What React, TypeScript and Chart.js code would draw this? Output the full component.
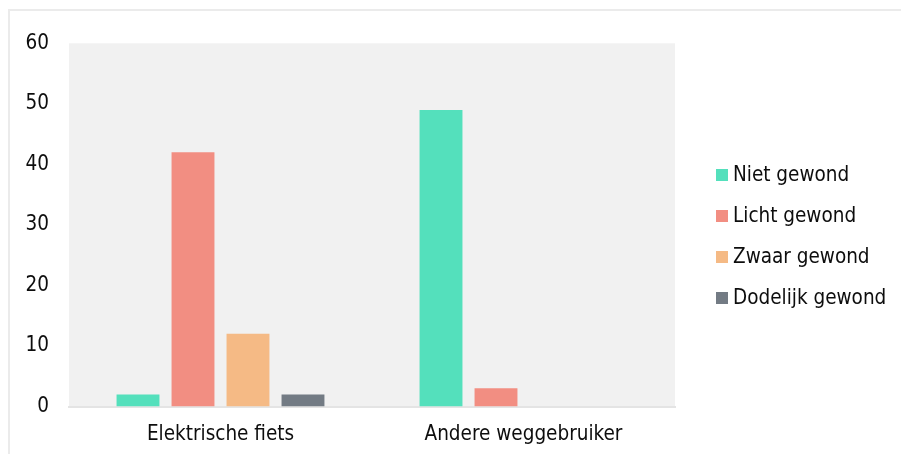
import React, { useEffect, useRef } from "react";
import { Chart, registerables } from "chart.js";

Chart.register(...registerables);

const categories = ["Elektrische fiets", "Andere weggebruiker"];
const seriesLabels = ["Niet gewond", "Licht gewond", "Zwaar gewond", "Dodelijk gewond"];
const nietGewond = [2, 49];
const lichtGewond = [42, 3];
const zwaarGewond = [12, 0];
const dodelijkGewond = [2, 0];
const seriesColors = ["#54e0bc", "#f28e82", "#f5ba85", "#737b84"];
const yTicks = [0, 10, 20, 30, 40, 50, 60];

const FONT = "'DejaVu Sans Condensed', 'DejaVu Sans', sans-serif";
const FONT_SIZE = 20.5;
const TEXT = "#0d0d0d";

// Light grey backdrop behind the plot area
const plotBackground = {
  id: "plotBackground",
  beforeDraw(chart: any) {
    const { ctx, chartArea } = chart;
    ctx.save();
    ctx.fillStyle = "#f1f1f1";
    ctx.fillRect(chartArea.left, chartArea.top, chartArea.right - chartArea.left, chartArea.bottom - chartArea.top);
    ctx.restore();
  },
};

// Legend column to the right of the plot
const sideLegend = {
  id: "sideLegend",
  afterDraw(chart: any) {
    const { ctx } = chart;
    const x = chart.chartArea.right + 41;
    const y0 = 164;
    const step = 41;
    ctx.save();
    ctx.font = `${FONT_SIZE}px ${FONT}`;
    ctx.textBaseline = "middle";
    ctx.textAlign = "left";
    chart.data.datasets.forEach((ds: any, i: number) => {
      const cy = y0 + i * step;
      ctx.fillStyle = ds.backgroundColor;
      ctx.fillRect(x, cy - 6, 12, 12);
      ctx.fillStyle = TEXT;
      ctx.fillText(ds.label, x + 17, cy + 1);
    });
    ctx.restore();
  },
};

export default function App() {
  const canvasRef = useRef<HTMLCanvasElement>(null);

  useEffect(() => {
    document.body.style.overflow = "hidden";
    const values = [nietGewond, lichtGewond, zwaarGewond, dodelijkGewond];
    const chart = new Chart(canvasRef.current!, {
      type: "bar",
      data: {
        labels: categories,
        datasets: seriesLabels.map((label, i) => ({
          label,
          data: values[i],
          backgroundColor: seriesColors[i],
          categoryPercentage: 0.726,
          barPercentage: 0.78,
        })),
      },
      options: {
        animation: false,
        responsive: false,
        layout: { padding: { top: 29.5, right: 226, bottom: 0, left: 0 } },
        plugins: {
          legend: { display: false },
          tooltip: { enabled: false },
        },
        scales: {
          x: {
            grid: { display: false, drawTicks: false },
            border: { display: true, color: "#e4e4e4", width: 2 },
            ticks: {
              color: TEXT,
              font: { family: FONT, size: FONT_SIZE },
              padding: 16,
            },
            afterFit(scale: any) {
              scale.height = 39.5;
            },
          },
          y: {
            min: 0,
            max: 60,
            afterBuildTicks(scale: any) {
              scale.ticks = yTicks.map((v) => ({ value: v }));
            },
            grid: { display: false, drawTicks: false },
            border: { display: false },
            ticks: {
              color: TEXT,
              font: { family: FONT, size: FONT_SIZE },
              padding: 20,
            },
            afterFit(scale: any) {
              scale.width = 59;
            },
          },
        },
      },
      plugins: [plotBackground, sideLegend],
    });
    return () => chart.destroy();
  }, []);

  return (
    <div
      style={{
        position: "fixed",
        left: 8,
        top: 9,
        right: 0,
        bottom: 0,
        borderTop: "2px solid #ebebeb",
        borderLeft: "2px solid #ebebeb",
      }}
    >
      <canvas ref={canvasRef} width={891} height={435} style={{ display: "block" }} />
    </div>
  );
}
